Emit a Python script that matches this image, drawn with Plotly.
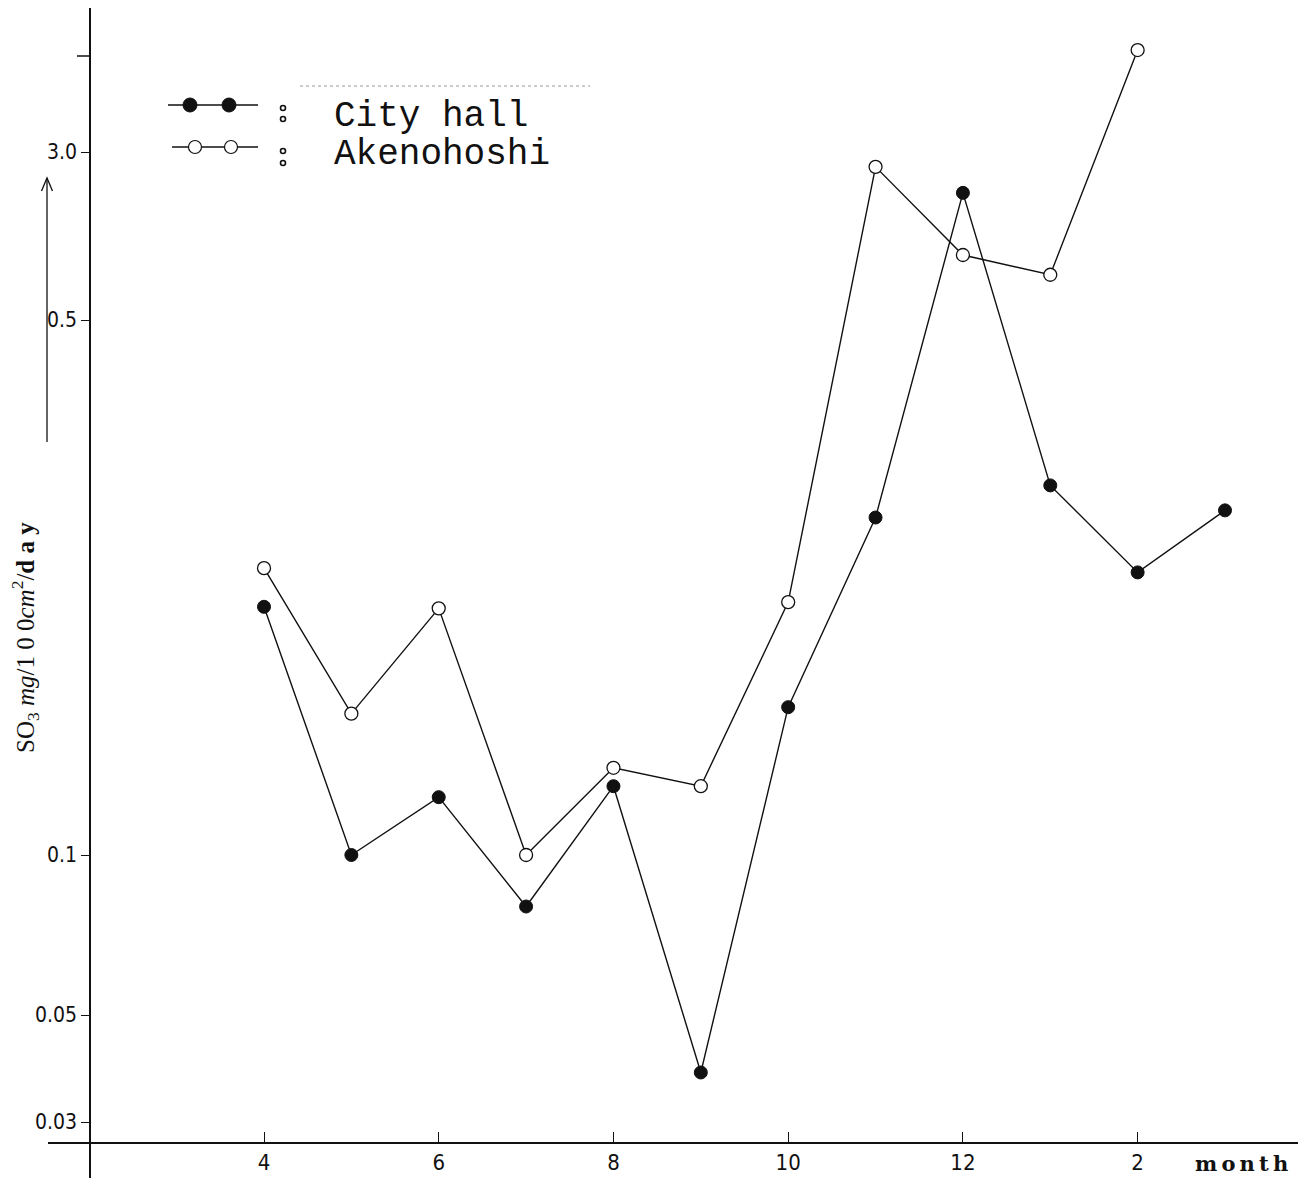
import math
import plotly.graph_objects as go

W, H = 1298, 1178

# Monthly sulphation rate (SO3 mg/100cm2/day), April through March of the next year
months = [4, 5, 6, 7, 8, 9, 10, 11, 12, 13, 14, 15]
city_hall = [0.211, 0.100, 0.119, 0.080, 0.123, 0.038, 0.156, 0.276, 1.94, 0.304, 0.234, 0.282]
akeno_months = [4, 5, 6, 7, 8, 9, 10, 11, 12, 13, 14]
akenohoshi = [0.237, 0.153, 0.210, 0.100, 0.130, 0.123, 0.214, 2.56, 1.00, 0.81, 8.9]

x_tick_values = [4, 6, 8, 10, 12, 14]
x_tick_text = ["4", "6", "8", "10", "12", "2"]
y_tick_values = [0.03, 0.05, 0.1, 0.5, 3.0]
y_tick_text = ["0.03", "0.05", "0.1", "0.5", "3.0"]

# Hand-ruled logarithmic scale: height of each labelled value above the month axis.
scale_heights = [21, 128, 288, 823, 991]


def to_scale(v):
    """Piecewise log interpolation between the ruled tick heights."""
    lv = math.log10(v)
    logs = [math.log10(t) for t in y_tick_values]
    i = 0
    while i < len(logs) - 2 and lv > logs[i + 1]:
        i += 1
    frac = (lv - logs[i]) / (logs[i + 1] - logs[i])
    return scale_heights[i] + frac * (scale_heights[i + 1] - scale_heights[i])


def fx(px):
    return px / W


def fy(py):
    return 1 - py / H


fig = go.Figure()

fig.add_trace(go.Scatter(
    x=akeno_months, y=[to_scale(v) for v in akenohoshi],
    mode="lines+markers", name="Akenohoshi",
    line=dict(color="#111", width=1.4),
    marker=dict(size=13, color="white", line=dict(color="#111", width=1.3)),
    customdata=akenohoshi, hovertemplate="%{customdata}<extra>Akenohoshi</extra>",
))
fig.add_trace(go.Scatter(
    x=months, y=[to_scale(v) for v in city_hall],
    mode="lines+markers", name="City hall",
    line=dict(color="#111", width=1.4),
    marker=dict(size=13, color="#111", line=dict(color="#111", width=1)),
    customdata=city_hall, hovertemplate="%{customdata}<extra>City hall</extra>",
))

tick_font = dict(family="Liberation Sans Narrow, DejaVu Sans Condensed, Arial Narrow, sans-serif",
                 size=21, color="#111")

fig.update_layout(
    width=W, height=H,
    margin=dict(l=0, r=0, t=0, b=0),
    paper_bgcolor="white", plot_bgcolor="white",
    showlegend=False,
    xaxis=dict(
        domain=[fx(48), 1], range=[1.5275, 15.8356],
        anchor="free", position=fy(1143),
        showline=True, linecolor="#111", linewidth=1.5,
        ticks="inside", ticklen=10, tickcolor="#111", tickwidth=1.2,
        tickvals=x_tick_values, ticktext=x_tick_text,
        tickfont=dict(tick_font, size=22),
        showgrid=False, zeroline=False,
    ),
    yaxis=dict(
        domain=[0, fy(8)], range=[-35, 1135],
        anchor="free", position=fx(90),
        showline=True, linecolor="#111", linewidth=1.5,
        ticks="outside", ticklen=8, tickcolor="#111", tickwidth=1.2,
        tickvals=[to_scale(v) for v in y_tick_values], ticktext=y_tick_text,
        tickfont=tick_font,
        showgrid=False, zeroline=False,
    ),
)

shapes = []
# unlabelled top tick of the ruled scale
shapes.append(dict(type="line", xref="paper", yref="paper",
                   x0=fx(77), x1=fx(90), y0=fy(56), y1=fy(56),
                   line=dict(color="#111", width=1.5)))
# upward arrow beside the axis title
shapes.append(dict(type="line", xref="paper", yref="paper",
                   x0=fx(47), x1=fx(47), y0=fy(442), y1=fy(178),
                   line=dict(color="#111", width=1.3)))
shapes.append(dict(type="path", xref="paper", yref="paper",
                   path=f"M {fx(41.5)},{fy(191)} L {fx(47)},{fy(178)} L {fx(52.5)},{fy(191)}",
                   line=dict(color="#111", width=1.3)))

# legend keys
shapes.append(dict(type="line", xref="paper", yref="paper",
                   x0=fx(168), x1=fx(258), y0=fy(105), y1=fy(105),
                   line=dict(color="#111", width=1.6)))
shapes.append(dict(type="line", xref="paper", yref="paper",
                   x0=fx(172), x1=fx(258), y0=fy(147), y1=fy(147),
                   line=dict(color="#111", width=1.3)))
for cx in (190, 229):
    shapes.append(dict(type="circle", xref="paper", yref="paper",
                       x0=fx(cx - 7), x1=fx(cx + 7), y0=fy(105 + 7), y1=fy(105 - 7),
                       fillcolor="#111", line=dict(color="#111", width=1)))
for cx in (195, 231):
    shapes.append(dict(type="circle", xref="paper", yref="paper",
                       x0=fx(cx - 6.5), x1=fx(cx + 6.5), y0=fy(147 + 6.5), y1=fy(147 - 6.5),
                       fillcolor="white", line=dict(color="#111", width=1.2)))
# colon dots between keys and names
for cy in (108, 119, 151, 163):
    shapes.append(dict(type="circle", xref="paper", yref="paper",
                       x0=fx(280.5), x1=fx(285.5), y0=fy(cy + 2.5), y1=fy(cy - 2.5),
                       fillcolor="white", line=dict(color="#111", width=1.6)))
# faint ruled line above the legend
shapes.append(dict(type="line", xref="paper", yref="paper",
                   x0=fx(300), x1=fx(590), y0=fy(86), y1=fy(86),
                   line=dict(color="#999", width=1, dash="dot")))
fig.update_layout(shapes=shapes)

mono = dict(family="Liberation Mono, Courier New, monospace", size=36, color="#111")
annotations = [
    dict(text="City hall", x=fx(332), y=fy(116), xanchor="left", yanchor="middle", font=mono),
    dict(text="Akenohoshi", x=fx(332), y=fy(155), xanchor="left", yanchor="middle", font=mono),
    dict(text="SO<sub>3</sub> <i>mg</i>/1 0 0<i>cm</i><sup>2</sup>/<b>d a y</b>",
         x=fx(25), y=fy(638), xanchor="center", yanchor="middle", textangle=-90,
         font=dict(family="Liberation Serif, Times New Roman, serif", size=25, color="#111")),
    dict(text="<b>m\u2009o\u2009n\u2009t\u2009h</b>", x=fx(1290), y=fy(1163),
         xanchor="right", yanchor="middle",
         font=dict(family="DejaVu Serif, Liberation Serif, serif", size=21, color="#111")),
]
for a in annotations:
    a.update(xref="paper", yref="paper", showarrow=False)
fig.update_layout(annotations=annotations)

fig.write_html("out.html")
